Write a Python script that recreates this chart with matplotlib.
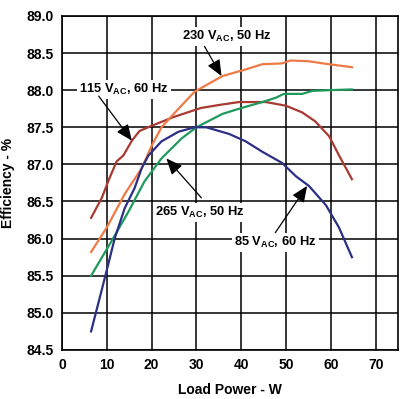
import matplotlib.pyplot as plt
import numpy as np

plt.rcParams['font.family'] = ['Liberation Sans', 'DejaVu Sans']
plt.rcParams['mathtext.fontset'] = 'custom'
plt.rcParams['mathtext.rm'] = 'Liberation Sans:bold'
plt.rcParams['mathtext.bf'] = 'Liberation Sans:bold'

# 115 VAC, 60 Hz
x_115 = [6.5, 8.9, 10.5, 12.2, 13.7, 15.6, 17.3, 20, 25, 31, 35, 39.5, 45.5, 50, 53.6, 56.5, 59.6, 62, 64.7]
y_115 = [86.28, 86.55, 86.8, 87.04, 87.12, 87.32, 87.45, 87.52, 87.64, 87.76, 87.8, 87.84, 87.84, 87.79, 87.7, 87.58, 87.38, 87.1, 86.8]

# 230 VAC, 50 Hz
x_230 = [6.5, 10, 14, 17.8, 20, 22.2, 26, 29.6, 35.8, 41, 44.7, 49, 51, 55, 59.5, 64.7]
y_230 = [85.82, 86.15, 86.6, 86.95, 87.25, 87.5, 87.75, 87.98, 88.19, 88.28, 88.35, 88.36, 88.4, 88.39, 88.35, 88.31]

# 265 VAC, 50 Hz
x_265 = [6.5, 11.1, 14.9, 18.4, 22.2, 26.7, 30, 35.8, 39.5, 44.7, 47.8, 49.5, 53.6, 55.8, 59.6, 64.7]
y_265 = [85.5, 85.97, 86.37, 86.77, 87.08, 87.35, 87.5, 87.68, 87.75, 87.84, 87.9, 87.95, 87.95, 87.99, 88.0, 88.01]

# 85 VAC, 60 Hz
x_85 = [6.5, 9.6, 11.8, 14, 16.2, 17.8, 19.3, 22.2, 26, 29.6, 32.2, 37.3, 41, 44.7, 49.1, 52.2, 55.1, 58.9, 61.8, 64.7]
y_85 = [84.75, 85.48, 86.01, 86.41, 86.68, 86.95, 87.12, 87.31, 87.44, 87.5, 87.5, 87.41, 87.31, 87.17, 87.02, 86.84, 86.71, 86.45, 86.15, 85.75]

# label text, text position, arrow tail, arrow tip
labels = [r'230 V$_{\mathbf{AC}}$, 50 Hz', r'115 V$_{\mathbf{AC}}$, 60 Hz',
          r'265 V$_{\mathbf{AC}}$, 50 Hz', r'85 V$_{\mathbf{AC}}$, 60 Hz']
label_pos = [(36.7, 88.72), (13.8, 88.01), (30.7, 86.35), (47.6, 85.95)]
arrow_tail = [(31.8, 88.59), (8.2, 87.92), (31.1, 86.55), (47.6, 86.08)]
arrow_tip = [(35.6, 88.19), (15.6, 87.32), (23.3, 87.08), (54.7, 86.71)]

fig = plt.figure(figsize=(4.05, 3.99), dpi=100)
ax = fig.add_axes([0.153, 0.123, 0.83, 0.837])

ax.plot(x_115, y_115, color='#a83a32', lw=1.6)
ax.plot(x_230, y_230, color='#ee7a45', lw=1.6)
ax.plot(x_265, y_265, color='#1e9a5c', lw=1.6)
ax.plot(x_85, y_85, color='#2b2f85', lw=1.6)

ax.set_xlim(0, 75)
ax.set_ylim(84.5, 89.0)
ax.set_xticks(np.arange(0, 71, 10))
yt = np.arange(84.5, 89.01, 0.5)
ax.set_yticks(yt)
ax.set_yticklabels([f'{v:.1f}' for v in yt])
ax.grid(True, color='black', lw=1.1)
ax.set_axisbelow(True)
ax.tick_params(length=0, labelsize=10, pad=6)
for lab in ax.get_xticklabels() + ax.get_yticklabels():
    lab.set_fontweight('bold')
for s in ax.spines.values():
    s.set_linewidth(1.2)

ax.set_xlabel('Load Power - W', fontsize=10, fontweight='bold', labelpad=8)
ax.set_ylabel('Efficiency - %', fontsize=10, fontweight='bold', labelpad=8)

box = dict(facecolor='white', edgecolor='none', pad=1.5)
for txt, pos, tail, tip in zip(labels, label_pos, arrow_tail, arrow_tip):
    ax.text(pos[0], pos[1], txt, fontsize=9.3, fontweight='bold', ha='center', va='center',
            bbox=box, zorder=4)
    ax.annotate('', xy=tip, xytext=tail, zorder=5,
                arrowprops=dict(arrowstyle='-|>,head_length=0.7,head_width=0.3',
                                color='black', lw=0.9, mutation_scale=14, shrinkA=0, shrinkB=0))

plt.savefig('out.png', dpi=100)
